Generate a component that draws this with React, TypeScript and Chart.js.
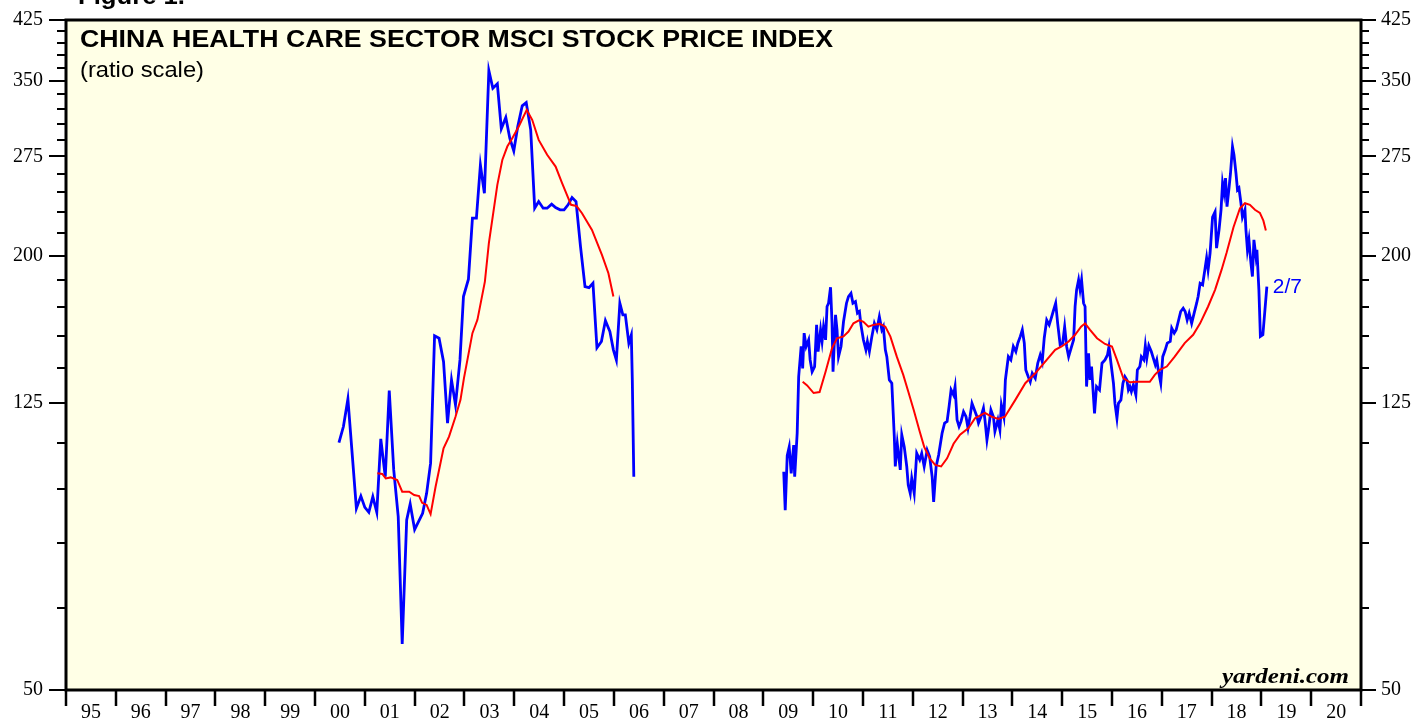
import React, { useEffect, useRef } from "react";
import { Chart, registerables } from "chart.js";

Chart.register(...registerables);

// ---- Data (index values, ratio scale) ----
const xTickYears = [1995, 1996, 1997, 1998, 1999, 2000, 2001, 2002, 2003, 2004, 2005, 2006, 2007, 2008, 2009, 2010, 2011, 2012, 2013, 2014, 2015, 2016, 2017, 2018, 2019, 2020, 2021];
const xTickLabels = ["95", "96", "97", "98", "99", "00", "01", "02", "03", "04", "05", "06", "07", "08", "09", "10", "11", "12", "13", "14", "15", "16", "17", "18", "19", "20", ""];
const yTickValues = [50, 65, 80, 95, 110, 125, 140, 155, 170, 185, 200, 215, 230, 245, 260, 275, 290, 305, 320, 335, 350, 365, 380, 395, 410, 425];
const yLabelValues = [50, 125, 200, 275, 350, 425];

// MSCI China Health Care index, 2000-2006 (monthly)
const priceYears2000 = [2000.48, 2000.57, 2000.66, 2000.75, 2000.83, 2000.92, 2001.0, 2001.08, 2001.16, 2001.24, 2001.32, 2001.41, 2001.49, 2001.58, 2001.67, 2001.75, 2001.84, 2001.91, 2002.0, 2002.16, 2002.24, 2002.32, 2002.4, 2002.49, 2002.58, 2002.66, 2002.74, 2002.82, 2002.91, 2002.98, 2003.08, 2003.16, 2003.24, 2003.32, 2003.4, 2003.49, 2003.57, 2003.66, 2003.74, 2003.83, 2003.91, 2003.99, 2004.07, 2004.16, 2004.24, 2004.33, 2004.41, 2004.49, 2004.58, 2004.66, 2004.75, 2004.83, 2004.92, 2005.0, 2005.08, 2005.16, 2005.24, 2005.33, 2005.42, 2005.5, 2005.58, 2005.66, 2005.75, 2005.83, 2005.92, 2005.99, 2006.05, 2006.12, 2006.18, 2006.23, 2006.3, 2006.35, 2006.37, 2006.4];
const priceValues2000 = [110.2, 116, 126.7, 105.4, 89.3, 92.9, 89.6, 88.2, 92.7, 88.2, 111.5, 98.8, 130.1, 101, 87, 57.9, 86.1, 90.6, 83.5, 87.9, 93.7, 103.2, 155, 153.8, 142.7, 117.3, 134.6, 124.3, 143.5, 175.7, 185.7, 225.7, 225.7, 267.5, 244.4, 361.6, 341.8, 346.6, 300.2, 311.2, 291.3, 279.8, 302.4, 323.1, 326.5, 299.2, 233, 238, 233, 233, 236, 233.4, 231.8, 231.8, 235.5, 241, 238, 206.1, 181.4, 180.8, 183.4, 149.2, 152.2, 162.7, 157.1, 148.2, 143.5, 172, 165.7, 165.7, 151.4, 155.4, 134.6, 98.8];

// 52-week moving average, 2001-2006
const avgYears2001 = [2001.25, 2001.35, 2001.42, 2001.52, 2001.65, 2001.75, 2001.89, 2001.99, 2002.09, 2002.15, 2002.24, 2002.32, 2002.42, 2002.58, 2002.69, 2002.82, 2002.92, 2002.99, 2003.16, 2003.26, 2003.41, 2003.49, 2003.66, 2003.76, 2003.86, 2003.96, 2004.09, 2004.25, 2004.36, 2004.49, 2004.66, 2004.83, 2004.96, 2005.14, 2005.25, 2005.36, 2005.56, 2005.76, 2005.89, 2005.99];
const avgValues2001 = [99.9, 99.7, 98.3, 98.6, 97.8, 94.2, 94.2, 93.2, 92.9, 90.9, 90.3, 87.7, 95.7, 108.2, 112.3, 119.7, 126.3, 135.4, 156.3, 163.1, 184.3, 208.4, 251, 271.8, 283.7, 291.3, 302.4, 319, 309, 289.8, 276.3, 266.1, 252.4, 235.5, 234.7, 229.3, 217.4, 200.7, 189.3, 175.7];

// MSCI China Health Care index, 2009-2019 (weekly) as [year, value]
const price2009: [number, number][] = [
  [2009.41, 100.4], [2009.44, 88.8], [2009.48, 105.7], [2009.52, 108.7], [2009.56, 99.9], [2009.61, 109.3], [2009.63, 98.8], [2009.68, 113.6], [2009.71, 136.0], [2009.76, 149.8], [2009.79, 139.7], [2009.82, 156.3], [2009.86, 149.8], [2009.91, 153], [2009.94, 143.5], [2009.98, 138.2],
  [2010.03, 140.5], [2010.07, 160.5], [2010.1, 147.4], [2010.15, 158], [2010.18, 152.2], [2010.21, 159.6], [2010.25, 153], [2010.28, 170.2], [2010.31, 172], [2010.35, 181], [2010.38, 161.3], [2010.4, 138.2], [2010.45, 165.7], [2010.48, 158], [2010.51, 145], [2010.56, 149.8], [2010.61, 162.1], [2010.67, 172], [2010.71, 175.7], [2010.76, 177.5], [2010.8, 172], [2010.85, 172.9], [2010.89, 166.6], [2010.93, 167.5], [2010.96, 160.5],
  [2011.01, 153], [2011.06, 148.2], [2011.09, 152.2], [2011.13, 147.4], [2011.18, 154.7], [2011.23, 161.3], [2011.28, 158], [2011.33, 164.7], [2011.38, 158], [2011.41, 159.6], [2011.45, 148.2], [2011.48, 145], [2011.53, 134.6], [2011.58, 133.2], [2011.63, 112.3], [2011.65, 102.1], [2011.69, 109.8], [2011.75, 101], [2011.78, 113], [2011.83, 108.7], [2011.88, 102.1], [2011.91, 96.2], [2011.95, 93.7], [2011.98, 98.3],
  [2012.03, 93.7], [2012.08, 106.5], [2012.14, 104.3], [2012.18, 106.5], [2012.23, 102.1], [2012.29, 107.6], [2012.34, 105.4], [2012.39, 98.8], [2012.42, 91.2], [2012.47, 102.1], [2012.52, 105.9], [2012.59, 113.6], [2012.64, 117.3], [2012.69, 117.9], [2012.73, 123.7], [2012.77, 130.4], [2012.82, 128.3], [2012.85, 131.8], [2012.89, 118.5], [2012.93, 116], [2012.97, 117.9],
  [2013.02, 121.6], [2013.07, 119.7], [2013.11, 115.4], [2013.15, 119.7], [2013.19, 124.9], [2013.24, 122.3], [2013.29, 119.7], [2013.32, 117.3], [2013.37, 119.7], [2013.42, 123], [2013.45, 118.5], [2013.49, 111.1], [2013.52, 114.8], [2013.57, 122.3], [2013.62, 119.7], [2013.65, 114.2], [2013.71, 118.5], [2013.75, 114.8], [2013.78, 124.3], [2013.83, 119.7], [2013.86, 134.6], [2013.92, 145], [2013.97, 143.5],
  [2014.02, 149.8], [2014.07, 147.4], [2014.11, 151.4], [2014.16, 154.7], [2014.2, 158], [2014.24, 151.4], [2014.27, 139], [2014.32, 136], [2014.36, 133.8], [2014.4, 137.5], [2014.46, 135.3], [2014.51, 142], [2014.56, 145.8], [2014.6, 142.7], [2014.64, 153.8], [2014.69, 163], [2014.74, 160.5], [2014.78, 163.9], [2014.82, 167.5], [2014.87, 172], [2014.91, 161.3], [2014.96, 150.6],
  [2015.01, 151.4], [2015.05, 159.6], [2015.09, 149.8], [2015.13, 145], [2015.18, 149], [2015.23, 153], [2015.26, 170.2], [2015.29, 179.5], [2015.33, 185.3], [2015.36, 179.5], [2015.39, 185.3], [2015.43, 172], [2015.46, 170.2], [2015.49, 131.8], [2015.53, 146.6], [2015.56, 134.6], [2015.59, 140.5], [2015.65, 121], [2015.69, 131.8], [2015.75, 130.4], [2015.8, 142], [2015.86, 143.5], [2015.91, 145.8], [2015.94, 149.8], [2015.98, 142],
  [2016.03, 133.2], [2016.06, 124.9], [2016.1, 119.1], [2016.13, 124.9], [2016.18, 126.3], [2016.22, 133.2], [2016.26, 136], [2016.3, 134.6], [2016.33, 130.4], [2016.36, 131.8], [2016.39, 129.7], [2016.43, 132.5], [2016.48, 128.3], [2016.51, 139], [2016.56, 140.5], [2016.59, 145], [2016.64, 143.5], [2016.67, 150.2], [2016.7, 144.3], [2016.74, 150.2], [2016.79, 147.4], [2016.83, 144.3], [2016.87, 141.3], [2016.9, 143.5], [2016.93, 139], [2016.98, 133.2],
  [2017.02, 145], [2017.07, 148.2], [2017.11, 151.4], [2017.17, 152.2], [2017.2, 158.8], [2017.25, 156.3], [2017.29, 158], [2017.33, 162.1], [2017.38, 167.5], [2017.43, 169.3], [2017.47, 167.5], [2017.51, 163], [2017.55, 166.6], [2017.6, 161.3], [2017.65, 166.6], [2017.7, 172], [2017.73, 175.7], [2017.77, 183.3], [2017.82, 182.4], [2017.87, 192.4], [2017.9, 198.8], [2017.93, 191.3], [2017.97, 201.9],
  [2018.02, 226.4], [2018.07, 230.3], [2018.1, 205.1], [2018.15, 217.4], [2018.19, 231.8], [2018.22, 252.3], [2018.25, 244.6], [2018.28, 256.5], [2018.31, 234.2], [2018.35, 248.4], [2018.38, 260.5], [2018.42, 283.6], [2018.45, 276.2], [2018.49, 260.5], [2018.52, 247], [2018.55, 248.4], [2018.59, 236.7], [2018.62, 226.4], [2018.67, 231.8], [2018.69, 217.4], [2018.72, 204], [2018.75, 210.6], [2018.79, 195.5], [2018.82, 187.3], [2018.85, 210.6], [2018.89, 199.7], [2018.91, 204], [2018.95, 179.5], [2018.98, 154.7],
  [2019.03, 155.5], [2019.11, 181.4],
];

// 52-week moving average, 2009-2019 as [year, value]
const avg2009: [number, number][] = [
  [2009.79, 133.8], [2009.88, 132.3], [2010.01, 129.1], [2010.13, 129.5], [2010.25, 138.2], [2010.38, 149], [2010.48, 153.8], [2010.61, 154.7], [2010.71, 157.1], [2010.81, 161.3], [2010.93, 163],
  [2011.01, 162.1], [2011.11, 159.6], [2011.21, 160.5], [2011.34, 161], [2011.45, 159.6], [2011.55, 154.7], [2011.68, 145], [2011.81, 136.8], [2011.91, 129.7],
  [2012.02, 122.3], [2012.14, 114.2], [2012.23, 108.7], [2012.34, 104.8], [2012.45, 102.6], [2012.57, 102.1], [2012.69, 104.8], [2012.82, 109.8], [2012.95, 113],
  [2013.12, 115.4], [2013.25, 119.1], [2013.45, 121.2], [2013.58, 119.7], [2013.72, 118.8], [2013.85, 119.7],
  [2014.06, 126.3], [2014.26, 133.2], [2014.46, 137.5], [2014.66, 142.7], [2014.86, 148.2], [2014.99, 149.8],
  [2015.13, 152.2], [2015.26, 155.5], [2015.38, 159.6], [2015.46, 161.3], [2015.56, 158], [2015.7, 153.8], [2015.86, 151],
  [2016.0, 149.8], [2016.1, 143.5], [2016.23, 135.3], [2016.36, 133.6], [2016.5, 133.8], [2016.63, 133.8], [2016.76, 133.8], [2016.86, 136.8], [2016.96, 139],
  [2017.1, 140.5], [2017.26, 145], [2017.46, 151.4], [2017.63, 155.5], [2017.77, 161.3], [2017.93, 170.2],
  [2018.07, 179.5], [2018.2, 191.3], [2018.3, 201.9], [2018.44, 219.2], [2018.57, 233], [2018.67, 236.7], [2018.77, 235.5], [2018.87, 231.8], [2018.97, 229.5],
  [2019.04, 223.9], [2019.09, 216.9],
];

const titleText = "CHINA HEALTH CARE SECTOR MSCI STOCK PRICE INDEX";
const subtitleText = "(ratio scale)";
const lastDateLabel = "2/7";

const BLUE = "#0000ff";
const RED = "#ff0000";

function drawStretched(ctx: CanvasRenderingContext2D, text: string, x: number, y: number, targetWidth: number, align: "left" | "right") {
  const w = ctx.measureText(text).width;
  const s = targetWidth / w;
  ctx.save();
  ctx.translate(align === "left" ? x : x - targetWidth, y);
  ctx.scale(s, 1);
  ctx.textAlign = "left";
  ctx.fillText(text, 0, 0);
  ctx.restore();
}

const framePlugin = {
  id: "yardeniFrame",
  beforeDraw(chart: any) {
    const { ctx, chartArea } = chart;
    const { left, top, right, bottom } = chartArea;
    ctx.save();
    ctx.fillStyle = "#ffffe6";
    ctx.fillRect(left, top, right - left, bottom - top);
    ctx.restore();
  },
  afterDatasetsDraw(chart: any) {
    const { ctx, chartArea } = chart;
    const { left, top, right, bottom } = chartArea;
    const ys = chart.scales.y;
    const xs = chart.scales.x;
    ctx.save();
    ctx.strokeStyle = "#000";
    ctx.lineWidth = 2;
    ctx.beginPath();
    ys.ticks.forEach((t: any) => {
      const py = Math.round(ys.getPixelForValue(t.value));
      const major = yLabelValues.includes(t.value);
      ctx.moveTo(left - (major ? 17 : 9), py);
      ctx.lineTo(left, py);
      ctx.moveTo(right, py);
      ctx.lineTo(right + (major ? 15 : 8), py);
    });
    ctx.stroke();
    ctx.lineWidth = 2.5;
    ctx.beginPath();
    xs.ticks.forEach((t: any) => {
      const px = Math.round(xs.getPixelForValue(t.value));
      ctx.moveTo(px, bottom);
      ctx.lineTo(px, bottom + 16);
    });
    ctx.stroke();
    ctx.lineWidth = 3;
    ctx.strokeRect(left, top, right - left, bottom - top);
    ctx.restore();
  },
  afterDraw(chart: any) {
    const { ctx, chartArea } = chart;
    const { left, right, bottom } = chartArea;
    ctx.save();
    ctx.fillStyle = "#000";
    ctx.textBaseline = "alphabetic";
    ctx.font = "bold 24px 'Liberation Sans', Arial, sans-serif";
    drawStretched(ctx, "Figure 1.", 78, 4, 107, "left");
    ctx.font = "bold 23px 'Liberation Sans', Arial, sans-serif";
    drawStretched(ctx, titleText, left + 14, 47, 753, "left");
    ctx.font = "22px 'Liberation Sans', Arial, sans-serif";
    drawStretched(ctx, subtitleText, left + 14, 77, 124, "left");
    ctx.font = "italic bold 22px 'Liberation Serif', 'Times New Roman', serif";
    drawStretched(ctx, "yardeni.com", right - 12, bottom - 7, 127, "right");
    const last = price2009[price2009.length - 1];
    const px = chart.scales.x.getPixelForValue(last[0]);
    const py = chart.scales.y.getPixelForValue(last[1]);
    ctx.fillStyle = BLUE;
    ctx.font = "20px 'Liberation Sans', Arial, sans-serif";
    ctx.textBaseline = "middle";
    drawStretched(ctx, lastDateLabel, px + 6, py + 1, 29, "left");
    ctx.restore();
  },
};

export default function App() {
  const canvasRef = useRef<HTMLCanvasElement | null>(null);

  useEffect(() => {
    const canvas = canvasRef.current;
    if (!canvas) return;
    const lineDs = (data: { x: number; y: number }[], color: string, width: number) => ({
      data,
      borderColor: color,
      backgroundColor: color,
      borderWidth: width,
      pointRadius: 0,
      tension: 0,
      fill: false,
      yAxisID: "y",
    });
    const serif = "'Liberation Serif', 'Times New Roman', serif";
    const yAxisFit = (w: number) => (scale: any) => {
      scale.width = w;
      scale.paddingTop = 0;
      scale.paddingBottom = 0;
    };
    const chart = new Chart(canvas, {
      type: "line",
      data: {
        datasets: [
          lineDs(avgYears2001.map((x, i) => ({ x, y: avgValues2001[i] })), RED, 2),
          lineDs(avg2009.map(([x, y]) => ({ x, y })), RED, 2),
          lineDs(priceYears2000.map((x, i) => ({ x, y: priceValues2000[i] })), BLUE, 2.8),
          lineDs(price2009.map(([x, y]) => ({ x, y })), BLUE, 2.8),
        ],
      },
      options: {
        responsive: false,
        animation: false,
        devicePixelRatio: 1,
        layout: { padding: { top: 20, left: 0, right: 0, bottom: 0 } },
        plugins: { legend: { display: false }, tooltip: { enabled: false }, title: { display: false } },
        scales: {
          x: {
            type: "linear",
            min: 1995,
            max: 2021,
            afterBuildTicks: (scale: any) => {
              scale.ticks = xTickYears.map((v) => ({ value: v }));
            },
            afterFit: (scale: any) => {
              scale.height = 29;
              scale.paddingLeft = 0;
              scale.paddingRight = 0;
            },
            grid: { drawOnChartArea: false, drawTicks: false },
            border: { display: false },
            ticks: {
              autoSkip: false,
              maxRotation: 0,
              minRotation: 0,
              padding: 11,
              labelOffset: 25,
              color: "#000",
              font: { family: serif, size: 20 },
              callback: (value: any) => {
                const idx = xTickYears.indexOf(Number(value));
                return idx >= 0 ? xTickLabels[idx] : "";
              },
            },
          },
          y: {
            type: "logarithmic",
            position: "left",
            min: 50,
            max: 425,
            afterBuildTicks: (scale: any) => {
              scale.ticks = yTickValues.map((v) => ({ value: v }));
            },
            afterFit: yAxisFit(66),
            grid: { drawOnChartArea: false, drawTicks: false },
            border: { display: false },
            ticks: {
              autoSkip: false,
              padding: 23,
              color: "#000",
              font: { family: serif, size: 20 },
              callback: (value: any) => (yLabelValues.includes(Number(value)) ? String(value) : ""),
            },
          },
          y2: {
            type: "logarithmic",
            position: "right",
            min: 50,
            max: 425,
            afterBuildTicks: (scale: any) => {
              scale.ticks = yTickValues.map((v) => ({ value: v }));
            },
            afterFit: yAxisFit(59),
            grid: { drawOnChartArea: false, drawTicks: false },
            border: { display: false },
            ticks: {
              autoSkip: false,
              padding: 20,
              color: "#000",
              font: { family: serif, size: 20 },
              callback: (value: any) => (yLabelValues.includes(Number(value)) ? String(value) : ""),
            },
          },
        },
      },
      plugins: [framePlugin],
    });
    return () => {
      chart.destroy();
    };
  }, []);

  return (
    <div style={{ position: "fixed", left: 0, top: 0, width: 1420, height: 719, background: "#ffffff" }}>
      <canvas ref={canvasRef} width={1420} height={719} style={{ display: "block", width: 1420, height: 719 }} />
    </div>
  );
}
